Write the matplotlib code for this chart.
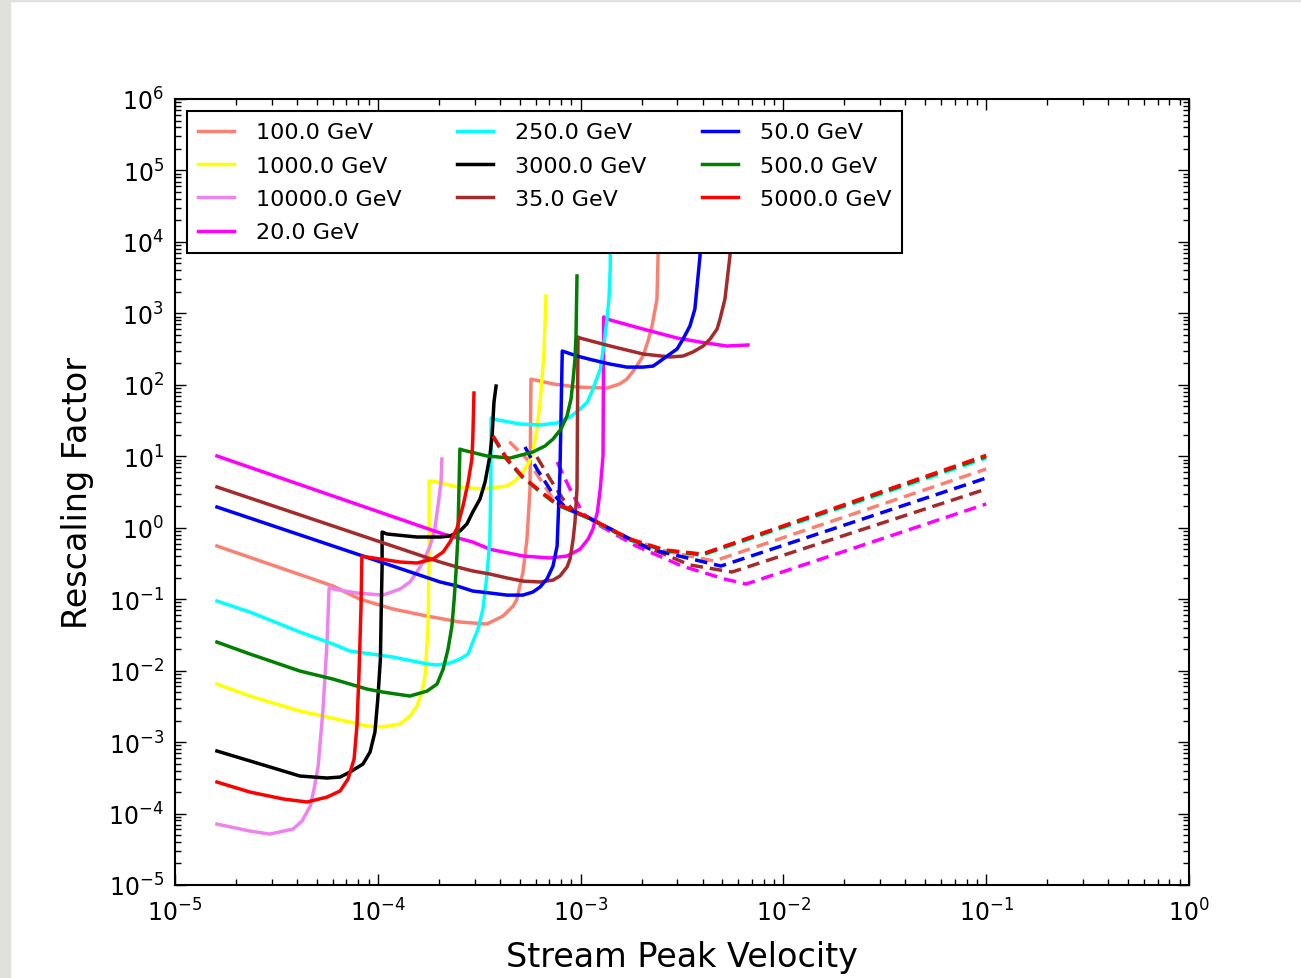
import matplotlib
matplotlib.use('Agg')
import matplotlib.pyplot as plt
from matplotlib.patches import Rectangle
from matplotlib.ticker import LogLocator, NullFormatter
import numpy as np

plt.rcParams['font.family'] = ['DejaVu Sans']

# Data: solid curve and dashed curve for each mass
labels = ['100.0 GeV', '1000.0 GeV', '10000.0 GeV', '20.0 GeV', '250.0 GeV',
          '3000.0 GeV', '35.0 GeV', '50.0 GeV', '500.0 GeV', '5000.0 GeV']
colors = ['salmon', 'yellow', 'violet', 'magenta', 'cyan',
          'black', 'brown', 'blue', 'green', 'red']

x_100 = [1.61e-5, 6.01e-5, 8.17e-5, 1.19e-4, 1.75e-4, 2.54e-4, 3.45e-4, 4.14e-4, 4.65e-4, 4.85e-4,
         5.20e-4, 5.44e-4, 5.63e-4, 5.69e-4, 7.31e-4, 9.60e-4, 1.35e-3, 1.56e-3, 1.69e-3, 1.85e-3,
         2.03e-3, 2.15e-3, 2.25e-3, 2.38e-3, 2.41e-3, 2.44e-3]
y_100 = [0.555, 0.153, 0.100, 0.0728, 0.058, 0.0479, 0.0449, 0.058, 0.0802, 0.100,
         0.240, 0.695, 3.48, 120, 103, 93, 90, 103, 120, 166,
         253, 410, 665, 1590, 6350, 2e5]

x_1000 = [1.61e-5, 2.34e-5, 4.13e-5, 7.29e-5, 8.85e-5, 1.06e-4, 1.29e-4, 1.44e-4, 1.56e-4, 1.65e-4,
          1.71e-4, 1.77e-4, 1.79e-4, 1.79e-4, 1.87e-4, 2.46e-4, 3.30e-4, 4.34e-4, 4.75e-4, 5.20e-4,
          5.57e-4, 5.82e-4, 6.09e-4, 6.31e-4, 6.45e-4, 6.60e-4, 6.75e-4]
y_1000 = [0.00649, 0.00441, 0.00272, 0.00191, 0.00168, 0.00163, 0.00179, 0.00232, 0.00320, 0.00501,
          0.00840, 0.0421, 0.365, 4.5, 4.5, 3.72, 3.48, 3.84, 4.5, 6.03,
          8.3, 11.8, 24.0, 57.4, 120, 288, 1750]

x_10000 = [1.61e-5, 2.34e-5, 2.94e-5, 3.82e-5, 4.23e-5, 4.64e-5, 4.85e-5, 5.08e-5, 5.37e-5, 5.62e-5,
           5.75e-5, 5.81e-5, 6.01e-5, 7.89e-5, 1.06e-4, 1.29e-4, 1.44e-4, 1.56e-4, 1.67e-4, 1.81e-4,
           1.91e-4, 1.98e-4, 2.05e-4, 2.07e-4]
y_10000 = [7.13e-5, 5.69e-5, 5.16e-5, 6.07e-5, 7.85e-5, 1.27e-4, 2.20e-4, 4.62e-4, 2.90e-3, 0.0251,
           0.139, 0.148, 0.139, 0.122, 0.114, 0.139, 0.174, 0.240, 0.331, 0.555,
           0.959, 2.01, 4.36, 9.16]

x_20 = [1.61e-5, 2.10e-4, 2.94e-4, 3.57e-4, 5.20e-4, 7.07e-4, 8.57e-4, 9.93e-4, 1.09e-3, 1.15e-3,
        1.21e-3, 1.25e-3, 1.29e-3, 1.30e-3, 1.40e-3, 2.03e-3, 2.99e-3, 3.88e-3, 5.27e-3, 6.69e-3]
y_20 = [10.1, 0.817, 0.631, 0.50, 0.402, 0.377, 0.402, 0.50, 0.695, 0.96,
        1.66, 3.5, 10.1, 890, 807, 604, 452, 397, 349, 361]

x_250 = [1.61e-5, 2.34e-5, 4.13e-5, 6.01e-5, 7.29e-5, 1.19e-4, 1.75e-4, 1.96e-4, 2.27e-4, 2.54e-4,
         2.79e-4, 2.94e-4, 3.12e-4, 3.30e-4, 3.45e-4, 3.57e-4, 3.61e-4, 3.62e-4, 3.70e-4, 5.02e-4,
         6.31e-4, 7.66e-4, 8.87e-4, 9.93e-4, 1.08e-3, 1.15e-3, 1.25e-3, 1.30e-3, 1.35e-3, 1.38e-3,
         1.40e-3, 1.41e-3]
y_250 = [0.0942, 0.0661, 0.0347, 0.0236, 0.0188, 0.0155, 0.0124, 0.0120, 0.0128, 0.0145,
         0.0171, 0.0251, 0.0382, 0.0728, 0.211, 0.695, 4.8, 34.3, 33.2, 28.3,
         27.4, 29.2, 35.4, 45.8, 57.4, 87.3, 166, 349, 834, 1590,
         4180, 2e5]

x_3000 = [1.61e-5, 2.84e-5, 4.13e-5, 5.62e-5, 6.52e-5, 7.29e-5, 8.45e-5, 9.16e-5, 9.68e-5, 1.00e-4,
          1.03e-4, 1.04e-4, 1.05e-4, 1.05e-4, 1.11e-4, 1.56e-4, 2.03e-4, 2.27e-4, 2.54e-4, 2.75e-4,
          2.94e-4, 3.19e-4, 3.38e-4, 3.57e-4, 3.66e-4, 3.74e-4, 3.83e-4]
y_3000 = [7.50e-4, 4.62e-4, 3.35e-4, 3.14e-4, 3.24e-4, 3.81e-4, 4.93e-4, 7.26e-4, 1.38e-3, 4.0e-3,
          0.0145, 0.0728, 0.291, 0.871, 0.817, 0.741, 0.741, 0.766, 0.899, 1.13,
          1.66, 2.52, 4.36, 10.1, 19.2, 57.4, 96]

x_35 = [1.61e-5, 2.03e-4, 2.46e-4, 2.94e-4, 3.57e-4, 4.34e-4, 5.20e-4, 6.31e-4, 7.31e-4, 7.91e-4,
        8.57e-4, 8.87e-4, 9.19e-4, 9.38e-4, 9.60e-4, 9.71e-4, 9.93e-4, 1.40e-3, 2.03e-3, 2.76e-3,
        3.20e-3, 3.58e-3, 4.02e-3, 4.35e-3, 4.71e-3, 4.87e-3, 5.15e-3, 5.45e-3, 5.63e-3]
y_35 = [3.72, 0.331, 0.282, 0.248, 0.225, 0.198, 0.179, 0.174, 0.185, 0.211,
        0.282, 0.365, 0.695, 1.20, 3.48, 467, 452, 349, 270, 245,
        253, 288, 349, 437, 604, 834, 1590, 6350, 2e5]

x_50 = [1.61e-5, 2.03e-4, 2.46e-4, 2.94e-4, 3.57e-4, 4.34e-4, 5.20e-4, 5.82e-4, 6.31e-4, 6.82e-4,
        7.31e-4, 7.66e-4, 7.74e-4, 7.91e-4, 8.12e-4, 9.60e-4, 1.15e-3, 1.40e-3, 1.69e-3, 2.03e-3,
        2.28e-3, 2.47e-3, 2.76e-3, 2.99e-3, 3.20e-3, 3.46e-3, 3.66e-3, 3.88e-3, 3.97e-3]
y_50 = [1.95, 0.174, 0.153, 0.130, 0.122, 0.114, 0.114, 0.126, 0.148, 0.191,
        0.291, 0.555, 1.20, 6.0, 297, 253, 222, 195, 177, 177,
        183, 215, 270, 317, 437, 665, 1150, 6350, 2e5]

x_500 = [1.61e-5, 2.34e-5, 4.13e-5, 6.01e-5, 7.29e-5, 8.85e-5, 1.06e-4, 1.44e-4, 1.75e-4, 1.96e-4,
         2.10e-4, 2.22e-4, 2.32e-4, 2.38e-4, 2.43e-4, 2.48e-4, 2.54e-4, 2.63e-4, 3.45e-4, 4.49e-4,
         5.82e-4, 6.67e-4, 7.31e-4, 8.00e-4, 8.57e-4, 8.97e-4, 9.19e-4, 9.38e-4, 9.49e-4, 9.60e-4]
y_500 = [0.0251, 0.0171, 0.00987, 0.00762, 0.00649, 0.00552, 0.00501, 0.00441, 0.00518, 0.00649,
         0.0105, 0.0200, 0.0421, 0.100, 0.240, 0.695, 12.6, 12.2, 10.1, 9.44,
         11.5, 13.9, 17.4, 24.0, 36.6, 63.2, 120, 230, 482, 3340]

x_5000 = [1.61e-5, 2.34e-5, 3.41e-5, 4.48e-5, 5.62e-5, 6.52e-5, 7.13e-5, 7.64e-5, 7.89e-5, 8.07e-5,
          8.26e-5, 8.35e-5, 8.85e-5, 1.29e-4, 1.56e-4, 1.87e-4, 2.10e-4, 2.27e-4, 2.46e-4, 2.63e-4,
          2.79e-4, 2.91e-4, 2.94e-4, 2.98e-4]
y_5000 = [2.76e-4, 2.00e-4, 1.60e-4, 1.45e-4, 1.70e-4, 2.07e-4, 3.04e-4, 5.79e-4, 1.68e-3, 8.40e-3,
          0.0728, 0.402, 0.389, 0.331, 0.321, 0.365, 0.457, 0.631, 0.99, 2.01,
          4.36, 9.16, 17.4, 76.8]

# dashed curves (only the visible ones)
dx_heavy = [3.70e-4, 4.34e-4, 5.14e-4, 6.31e-4, 7.66e-4, 1.08e-3, 1.75e-3, 2.61e-3, 3.97e-3, 0.1]
dy_5000 = [19.2, 9.16, 5.29, 3.27, 2.15, 1.41, 0.695, 0.488, 0.428, 10.3]
dy_500 = [19.0, 9.0, 5.2, 3.2, 2.1, 1.39, 0.68, 0.48, 0.42, 9.9]
dy_250 = [18.5, 8.8, 5.1, 3.15, 2.08, 1.37, 0.67, 0.47, 0.41, 9.4]

dx_100 = [4.45e-4, 5.44e-4, 6.31e-4, 7.48e-4, 1.08e-3, 1.75e-3, 2.61e-3, 4.55e-3, 0.1]
dy_100 = [16.0, 9.16, 4.81, 2.29, 1.41, 0.695, 0.472, 0.342, 6.63]

dx_50 = [5.32e-4, 6.09e-4, 7.31e-4, 8.57e-4, 1.08e-3, 1.75e-3, 2.20e-3, 3.88e-3, 4.92e-3, 0.1]
dy_50 = [13.5, 6.63, 2.96, 1.83, 1.41, 0.695, 0.503, 0.342, 0.291, 4.96]

dx_35 = [6.09e-4, 7.07e-4, 8.19e-4, 9.38e-4, 1.08e-3, 1.96e-3, 3.46e-3, 5.58e-3, 0.1]
dy_35 = [9.77, 4.81, 2.52, 1.66, 1.41, 0.592, 0.301, 0.240, 3.48]

dx_20 = [7.66e-4, 8.87e-4, 1.03e-3, 1.25e-3, 1.88e-3, 3.16e-3, 5.15e-3, 6.55e-3, 0.1]
dy_20 = [8.31, 3.48, 1.56, 1.06, 0.555, 0.291, 0.191, 0.163, 2.15]

solid = [(x_100, y_100), (x_1000, y_1000), (x_10000, y_10000), (x_20, y_20), (x_250, y_250),
         (x_3000, y_3000), (x_35, y_35), (x_50, y_50), (x_500, y_500), (x_5000, y_5000)]
dashed = [(dx_100, dy_100), None, None, (dx_20, dy_20), (dx_heavy, dy_250),
          None, (dx_35, dy_35), (dx_50, dy_50), (dx_heavy, dy_500), (dx_heavy, dy_5000)]

fig = plt.figure(figsize=(13.01, 9.79), dpi=100)
# grey screenshot border
fig.patches.append(Rectangle((0, 0), 10 / 1301, 1, transform=fig.transFigure,
                             color='#e0e0dc', zorder=-1))
fig.patches.append(Rectangle((0, 1 - 2 / 979), 1, 2 / 979, transform=fig.transFigure,
                             color='#e0e0dc', zorder=-1))

ax = fig.add_axes([175 / 1301, 1 - 886 / 979, 1014 / 1301, 786 / 979])

for i in range(len(labels)):
    sx, sy = solid[i]
    ax.plot(sx, sy, color=colors[i], lw=2.5, label=labels[i])
    if dashed[i] is not None:
        dx, dy = dashed[i]
        ax.plot(dx, dy, color=colors[i], lw=2.5, dashes=(3.6, 2.0))

ax.set_xscale('log')
ax.set_yscale('log')
ax.set_xlim(1e-5, 1e0)
ax.set_ylim(1e-5, 1e6)

for axis in (ax.xaxis, ax.yaxis):
    axis.set_major_locator(LogLocator(base=10, numticks=20))
    axis.set_minor_locator(LogLocator(base=10, subs=np.arange(2, 10), numticks=200))
    axis.set_minor_formatter(NullFormatter())

ax.tick_params(which='both', direction='in', top=True, right=True)
ax.tick_params(which='major', length=8, width=1, labelsize=17)
ax.tick_params(axis='x', which='major', pad=10)
ax.tick_params(axis='y', which='major', pad=8)
ax.tick_params(which='minor', length=4, width=1)
for sp in ax.spines.values():
    sp.set_linewidth(1.5)

ax.set_xlabel('Stream Peak Velocity', fontsize=24, labelpad=10)
ax.set_ylabel('Rescaling Factor', fontsize=24, labelpad=10)

leg = ax.legend(loc='upper left', ncol=3, fontsize=16, handlelength=1.6, handletextpad=1.0,
                columnspacing=2.5, labelspacing=0.6, borderaxespad=0.55, borderpad=0.5,
                fancybox=False, edgecolor='black', framealpha=1)
leg.get_frame().set_linewidth(1.5)

fig.savefig('out.png', dpi=100)
